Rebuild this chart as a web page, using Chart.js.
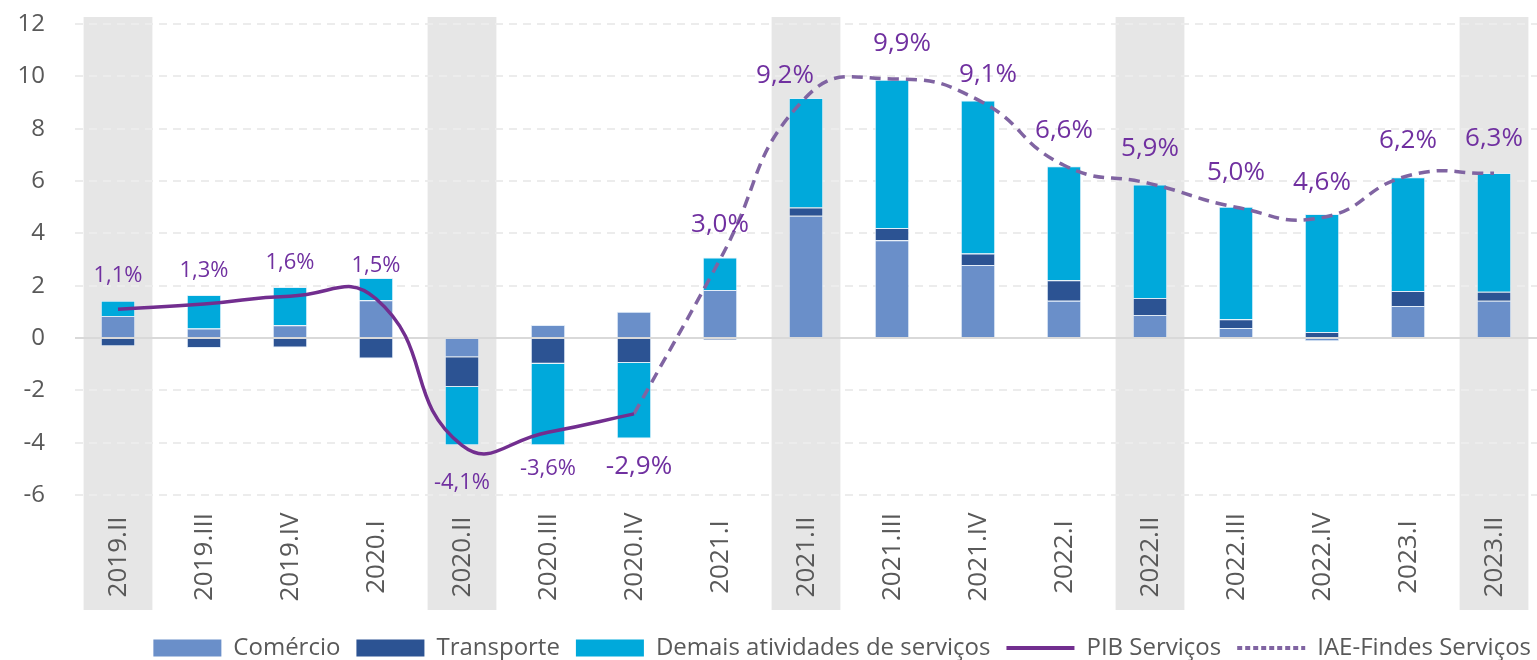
<!DOCTYPE html>
<html>
<head>
<meta charset="utf-8">
<script src="https://cdn.jsdelivr.net/npm/chart.js@4/dist/chart.umd.min.js"></script>
<style>
  html, body { margin: 0; padding: 0; background: #ffffff; }
  #wrap { width: 1537px; height: 660px; position: relative; }
</style>
</head>
<body>
<div id="wrap"><canvas id="c" width="1537" height="660"></canvas></div>
<script>
// ---- Data ----
const categories = ['2019.II','2019.III','2019.IV','2020.I','2020.II','2020.III','2020.IV',
  '2021.I','2021.II','2021.III','2021.IV','2022.I','2022.II','2022.III','2022.IV','2023.I','2023.II'];
const comercio   = [0.84, 0.36, 0.49, 1.44, -0.74, 0.50, 1.00, 1.83, 4.67, 3.74, 2.79, 1.42, 0.88, 0.38, -0.12, 1.22, 1.42];
const transporte = [-0.32, -0.38, -0.36, -0.78, -1.13, -0.98, -0.96, -0.07, 0.32, 0.46, 0.44, 0.79, 0.65, 0.34, 0.23, 0.58, 0.35];
const demais     = [0.58, 1.28, 1.46, 0.85, -2.23, -3.12, -2.88, 1.25, 4.18, 5.67, 5.85, 4.35, 4.34, 4.30, 4.51, 4.34, 4.54];
const pibServicos = [1.1, 1.3, 1.6, 1.5, -4.1, -3.6, -2.9, null, null, null, null, null, null, null, null, null, null];
const iaeFindes   = [null, null, null, null, null, null, -2.9, 3.0, 9.2, 9.9, 9.1, 6.6, 5.9, 5.0, 4.6, 6.2, 6.3];
const shadedQuarters = ['2019.II','2020.II','2021.II','2022.II','2023.II'];
const yTicks = [-6, -4, -2, 0, 2, 4, 6, 8, 10, 12];

const FONT = "'Open Sans', 'Noto Sans', 'DejaVu Sans', sans-serif";
const TEXT = '#595959';

function fmtPct(v) { return v.toFixed(1).replace('.', ',') + '%'; }

// Grey quarter bands + custom centred vertical category labels
const quarterBands = {
  id: 'quarterBands',
  beforeDraw(chart, args, opts) {
    const {ctx, chartArea, scales: {x}} = chart;
    const half = (chartArea.right - chartArea.left) / categories.length * 0.4;
    ctx.save();
    ctx.fillStyle = opts.color;
    shadedQuarters.forEach(q => {
      const i = categories.indexOf(q);
      const cx = x.getPixelForValue(i);
      ctx.fillRect(cx - half, chartArea.top - opts.extendTop, half * 2,
        chartArea.bottom + opts.extendBottom - (chartArea.top - opts.extendTop));
    });
    ctx.restore();
  },
  afterDraw(chart, args, opts) {
    const {ctx, chartArea, scales: {x}} = chart;
    ctx.save();
    ctx.fillStyle = TEXT;
    ctx.font = opts.labelFont;
    ctx.textAlign = 'center';
    ctx.textBaseline = 'middle';
    categories.forEach((c, i) => {
      const cx = x.getPixelForValue(i);
      ctx.save();
      ctx.translate(cx + 1, chartArea.bottom + opts.labelOffset);
      ctx.rotate(-Math.PI / 2);
      ctx.fillText(c, 0, 0);
      ctx.restore();
    });
    ctx.restore();
  }
};

// Percentage labels for the line series
const valueLabels = {
  id: 'valueLabels',
  afterDatasetsDraw(chart, args, opts) {
    const ctx = chart.ctx;
    ctx.save();
    ctx.textAlign = 'center';
    ctx.textBaseline = 'middle';
    ctx.fillStyle = opts.color;
    opts.series.forEach(s => {
      const ds = chart.data.datasets[s.dataset];
      const meta = chart.getDatasetMeta(s.dataset);
      ctx.font = s.font;
      ds.data.forEach((v, i) => {
        if (v === null || (s.skip && s.skip.includes(i))) return;
        const p = meta.data[i];
        const o = (s.adjust && s.adjust[i]) || {};
        const dy = (o.dy !== undefined) ? o.dy : (v >= 0 ? -s.above : s.below);
        const dx = o.dx || 0;
        ctx.fillText(fmtPct(v), p.x + dx, p.y + dy);
      });
    });
    ctx.restore();
  }
};

const legendShift = {
  id: 'legendShift',
  afterLayout(chart, args, opts) {
    if (chart.legend) {
      chart.legend.top += opts.dy; chart.legend.bottom += opts.dy;
      chart.legend.left += opts.dx; chart.legend.right += opts.dx;
    }
  }
};

const ctx = document.getElementById('c').getContext('2d');
new Chart(ctx, {
  type: 'bar',
  data: {
    labels: categories,
    datasets: [
      { type: 'bar', label: 'Comércio', data: comercio, backgroundColor: '#6a8fc9',
        borderColor: 'rgba(220,232,246,0.8)', borderWidth: 1, stack: 'bars', order: 1, pointStyle: 'rect' },
      { type: 'bar', label: 'Transporte', data: transporte, backgroundColor: '#2c5393',
        borderColor: 'rgba(220,232,246,0.8)', borderWidth: 1, stack: 'bars', order: 1, pointStyle: 'rect' },
      { type: 'bar', label: 'Demais atividades de serviços', data: demais, backgroundColor: '#00a9db',
        borderColor: 'rgba(220,240,250,0.8)', borderWidth: 1, stack: 'bars', order: 1, pointStyle: 'rect' },
      { type: 'line', label: 'PIB Serviços', data: pibServicos, borderColor: '#722e8f',
        backgroundColor: '#722e8f', borderWidth: 3.5, tension: 0.5, pointRadius: 0,
        stack: 'pib', order: 0, pointStyle: 'line', spanGaps: false },
      { type: 'line', label: 'IAE-Findes Serviços', data: iaeFindes, borderColor: '#8064a2',
        backgroundColor: '#8064a2', borderWidth: 3.5, borderDash: [11, 7], tension: 0.5, pointRadius: 0,
        stack: 'iae', order: 0, pointStyle: 'line', spanGaps: false }
    ]
  },
  options: {
    responsive: false,
    animation: false,
    layout: { padding: { top: 24, left: 17, right: 0, bottom: 0 } },
    datasets: { bar: { categoryPercentage: 0.8, barPercentage: 0.5 } },
    scales: {
      x: {
        stacked: true,
        grid: { display: false },
        border: { display: false },
        ticks: { display: false },
        afterFit(scale) { scale.height = 115; }
      },
      y: {
        stacked: true,
        min: -6, max: 12,
        afterBuildTicks(scale) { scale.ticks = yTicks.map(v => ({ value: v })); },
        afterFit(scale) { scale.width = 58; },
        ticks: { color: TEXT, font: { family: FONT, size: 24 }, padding: 3 },
        grid: {
          drawTicks: true,
          tickLength: 27,
          tickColor: 'rgba(0,0,0,0)',
          lineWidth: 2,
          color: c => (c.tick && c.tick.value === 0) ? '#d9d9d9' : '#ececec'
        },
        border: { display: false, dash: c => (c.tick && c.tick.value === 0) ? [] : [8, 6] }
      }
    },
    plugins: {
      tooltip: { enabled: false },
      legend: {
        position: 'bottom',
        align: 'end',
        labels: {
          usePointStyle: true,
          pointStyleWidth: 68,
          boxHeight: 17,
          padding: 16,
          color: TEXT,
          font: { family: FONT, size: 24 },
          sort: (a, b) => a.datasetIndex - b.datasetIndex,
          generateLabels(chart) {
            const items = Chart.defaults.plugins.legend.labels.generateLabels(chart);
            items.forEach(it => {
              const ds = chart.data.datasets[it.datasetIndex];
              if (ds.type === 'bar') { it.pointStyle = 'rect'; it.lineWidth = 0; it.fillStyle = ds.backgroundColor; }
              else { it.pointStyle = 'line'; it.lineWidth = 4; it.strokeStyle = ds.borderColor;
                it.lineDash = ds.borderDash ? [5, 3] : []; }
            });
            return items;
          }
        }
      },
      quarterBands: { color: '#e6e6e6', extendTop: 7, extendBottom: 115, labelOffset: 62,
        labelFont: "26px 'Open Sans', 'Noto Sans', sans-serif" },
      valueLabels: {
        color: '#7030a0',
        series: [
          { dataset: 3, font: "22px 'Open Sans', 'Noto Sans', sans-serif", above: 33, below: 37, skip: [6] },
          { dataset: 4, font: "26px 'Open Sans', 'Noto Sans', sans-serif", above: 35, below: 37,
            adjust: { 6: { dx: 5, dy: 53 }, 8: { dx: -21, dy: -22 }, 9: { dx: 10 }, 10: { dx: 10, dy: -25 } } }
        ]
      },
      legendShift: { dy: 10, dx: 10 }
    }
  },
  plugins: [quarterBands, valueLabels, legendShift]
});
</script>
</body>
</html>
